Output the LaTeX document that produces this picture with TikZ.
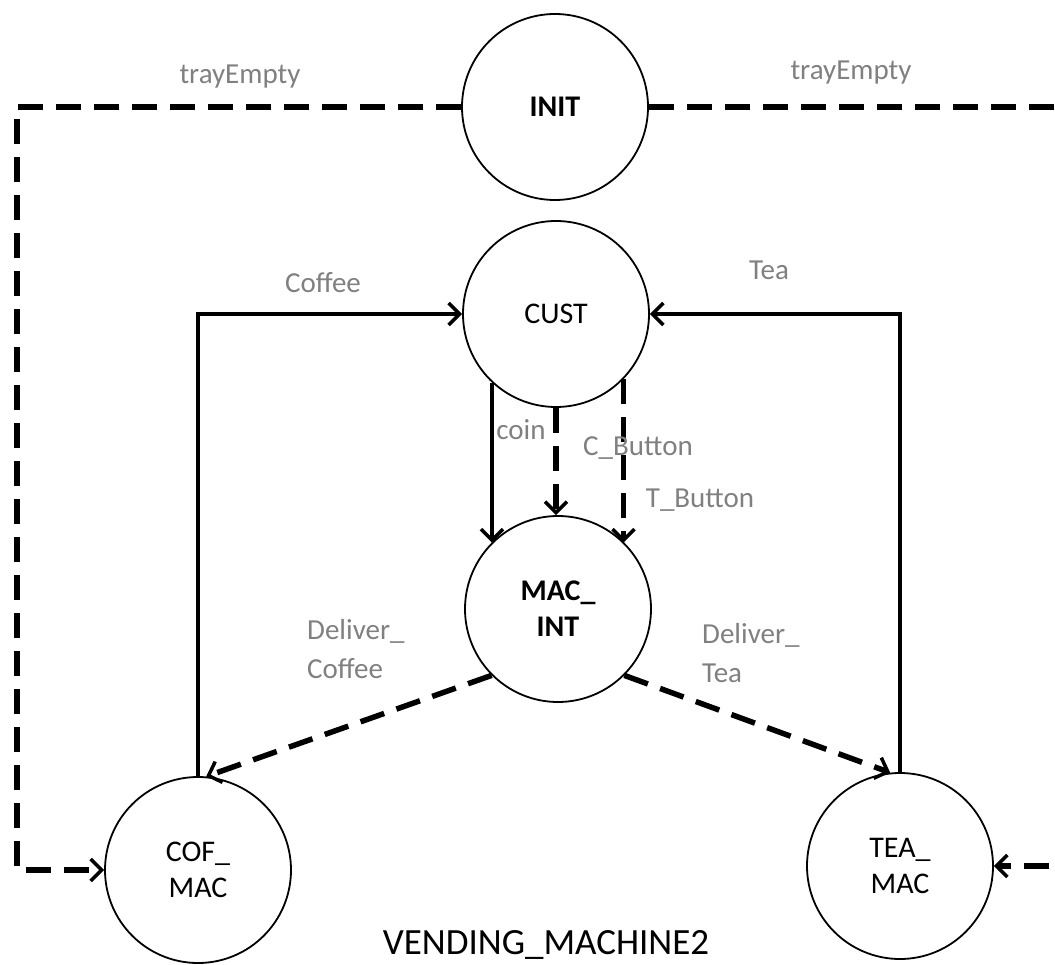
\documentclass[tikz,border=0pt]{standalone}
\usepackage{fontspec}
\setmainfont{Carlito}
\usetikzlibrary{arrows.meta}
\begin{document}
\begin{tikzpicture}[x=1pt,y=-1pt,
  state/.style={circle,draw,line width=1.8pt,minimum size=186pt,inner sep=0pt,align=center,font=\fontsize{30}{36}\selectfont},
  boldstate/.style={state,font=\bfseries\fontsize{30}{36}\selectfont},
  lbl/.style={text=black!50,font=\fontsize{29}{39}\selectfont,inner sep=0pt,align=left},
  tip/.style={-{Straight Barb[length=11pt,width=22pt,line width=3.5pt]}},
  solidarrow/.style={line width=4.8pt,tip},
  dashline/.style={line width=5.5pt,dash pattern=on 25pt off 13pt},
  dasharrow/.style={dashline,tip}]
\useasboundingbox (0,0) rectangle (1055,965);

% states
\node[boldstate] (init) at (555,107) {INIT};
\node[state] (cust) at (556,314) {CUST};
\node[boldstate] (mac) at (558,609) {MAC\_\\INT};
\node[state] (cof) at (198,870) {COF\_\\MAC};
\node[state] (tea) at (900,866) {TEA\_\\MAC};

% corner coordinates
\coordinate (lc) at (17,107);
\coordinate (rc) at (1058.5,107);

% trayEmpty transitions
\draw[dasharrow] (init.west) -- (lc) |- (cof.west);
\draw[dasharrow] (init.east) -- (rc) |- (tea.east);

% return transitions
\draw[solidarrow] (cof.north) |- (cust.west);
\draw[solidarrow] (tea.north) |- (cust.east);

% customer inputs
\draw[solidarrow] (cust.-133.5) -- (cust.-133.5 |- mac.135);
\draw[dasharrow] (cust.south) -- (cust.south |- mac.north);
\draw[dasharrow] (cust.-44) -- (cust.-44 |- mac.45);

% deliveries
\draw[dasharrow] (mac.-135) -- (cof.85);
\draw[dasharrow] (mac.-45) -- (tea.96);

% labels
\node[lbl] (l1) at (240,77) {trayEmpty};
\node[lbl] (l2) at (851,73) {trayEmpty};
\node[lbl] (l3) at (323,283) {Coffee};
\node[lbl] (l4) at (769,270) {Tea};
\node[lbl] (l5) at (521,430) {coin};
\node[lbl] (l6) at (638,448) {C\_Button};
\node[lbl] (l7) at (700,500) {T\_Button};
\node[lbl,anchor=west] (l8) at (307,649) {Deliver\_\\Coffee};
\node[lbl,anchor=west] (l9) at (702,653) {Deliver\_\\Tea};

% title
\node[font=\fontsize{37}{42}\selectfont,inner sep=0pt] (title) at (546,945) {VENDING\_MACHINE2};
\end{tikzpicture}
\end{document}
